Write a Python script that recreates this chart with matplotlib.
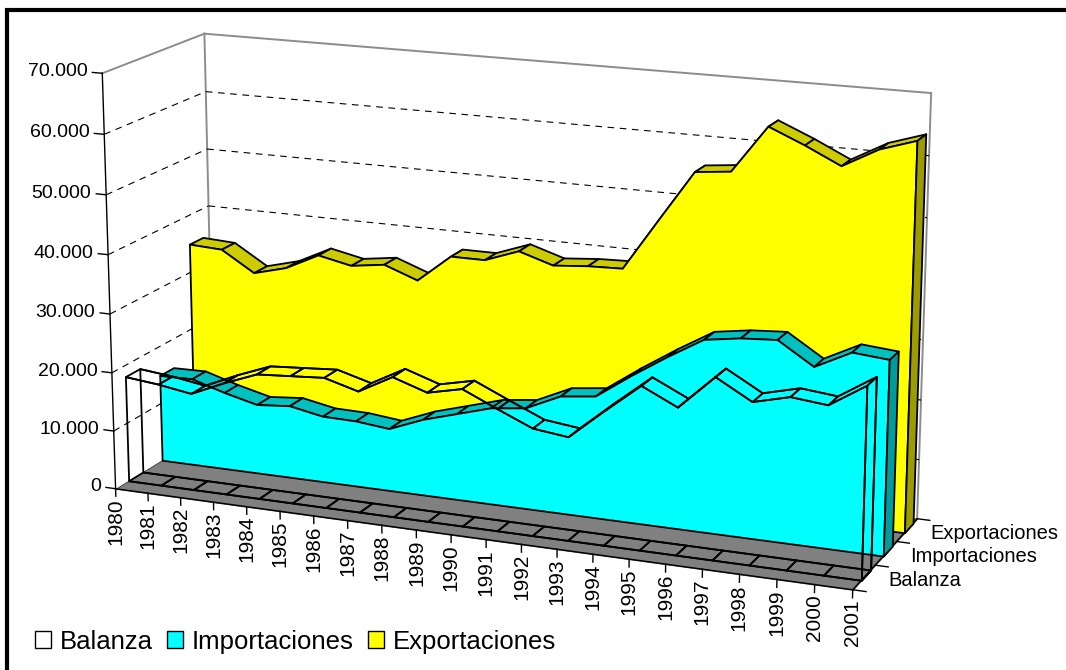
import matplotlib.pyplot as plt
from matplotlib.patches import Patch, Rectangle
from mpl_toolkits.mplot3d import proj3d
from mpl_toolkits.mplot3d.art3d import Poly3DCollection

years = [str(y) for y in range(1980, 2002)]
balanza = [18100, 17500, 16600, 19100, 21300, 21700, 22100, 20500, 23600, 21700, 23000,
           20400, 17900, 17200, 22200, 27000, 24200, 29800, 26500, 28000, 27400, 31200]
importaciones = [15000, 15100, 13400, 12000, 12500, 11400, 11300, 10700, 13000, 14700, 16400,
                 17100, 19800, 20500, 24600, 28400, 31900, 32800, 33200, 29500, 32500, 32000]
exportaciones = [35000, 34700, 31200, 32700, 35500, 34300, 35100, 33000, 37700, 37700, 39800,
                 38000, 38500, 38700, 47300, 55800, 56400, 64200, 61700, 58900, 62100, 64000]
series_names = ["Balanza", "Importaciones", "Exportaciones"]
value_ticks = [0, 10000, 20000, 30000, 40000, 50000, 60000, 70000]
tick_labels = ["0", "10.000", "20.000", "30.000", "40.000", "50.000", "60.000", "70.000"]

clear = (1, 1, 1, 0)
front_colors = [clear, "#00FFFF", "#FFFF00"]
top_colors = [clear, "#00C0C0", "#CCCC00"]
end_colors = [clear, "#009C9C", "#9C9C00"]

plt.rcParams["font.family"] = ["Liberation Sans", "DejaVu Sans"]

fig = plt.figure(figsize=(10.66, 6.70), dpi=100)
ax = fig.add_axes([-0.034, -0.260, 1.0, 1.591], projection="3d", computed_zorder=False)
ax.set_proj_type("persp", focal_length=0.6)
ax.view_init(elev=15.4, azim=-67.7)
ax.set_box_aspect((719, 202, 397), zoom=0.846)
n = len(years)
xmax = n - 1
ax.set_xlim(0, xmax)
ax.set_ylim(0, 3)
ax.set_zlim(0, 70000)
ax.set_axis_off()

order = [0]


def next_z():
    order[0] += 1
    return order[0]


def poly(verts, fc, ec="black", lw=1.3):
    pc = Poly3DCollection(verts, facecolors=[fc], edgecolors=[ec], linewidths=lw)
    pc.set_zorder(next_z())
    ax.add_collection3d(pc)


def line(xs, ys, zs, **kw):
    ax.plot(xs, ys, zs, zorder=next_z(), **kw)


def label(x, y, z, s, **kw):
    px, py, _ = proj3d.proj_transform(x, y, z, ax.get_proj())
    ax.text2D(px, py, s, transform=ax.transData, zorder=next_z(), **kw)


# floor
poly([[(0, 0, 0), (xmax, 0, 0), (xmax, 3, 0), (0, 3, 0)]], "#808080", ec="#505050", lw=0.8)

# walls
wall = dict(color="#8C8C8C", lw=1.4)
line([0, 0], [3, 3], [0, 70000], **wall)
line([0, xmax], [3, 3], [70000, 70000], **wall)
line([xmax, xmax], [3, 3], [0, 70000], **wall)
line([0, 0], [0, 3], [70000, 70000], **wall)
for v in value_ticks[1:-1]:
    line([0, 0], [0, 3], [v, v], color="black", lw=0.8, dashes=(6, 5))
    line([0, xmax], [3, 3], [v, v], color="black", lw=0.8, dashes=(6, 5))

# value axis
line([0, 0], [0, 0], [0, 70000], color="black", lw=1.0)
for v, lab in zip(value_ticks, tick_labels):
    line([0, -0.3], [0, 0], [v, v], color="black", lw=1.0)
    label(-0.45, 0, v, lab, ha="right", va="center", fontsize=14)

# year axis
line([0, xmax], [0, 0], [0, 0], color="black", lw=1.0)
for k, lab in enumerate(years):
    line([k, k], [0, 0], [0, -1300], color="black", lw=1.0)
    label(k, 0, -1600, lab, rotation=90, ha="center", va="top", fontsize=15)

# series axis
line([xmax, xmax], [0, 3], [0, 0], color="black", lw=1.0)
for d in range(4):
    line([xmax, xmax + 0.35], [d, d], [0, 0], color="black", lw=1.0)
for d, lab in enumerate(series_names):
    label(xmax + 0.65, d + 0.5, 0, lab, ha="left", va="center", fontsize=14.5)

front_gap, back_gap = 0.38, 0.2
all_values = [balanza, importaciones, exportaciones]
for i in [2, 1, 0]:
    vals = all_values[i]
    yf, yb = i + front_gap, i + 1 - back_gap
    fc, tc, ecol = front_colors[i], top_colors[i], end_colors[i]
    if i == 0:
        # transparent series: wireframe of the whole slab
        for k in range(n - 1):
            poly([[(k, yf, 0), (k + 1, yf, 0), (k + 1, yb, 0), (k, yb, 0)]], clear)
        poly([[(0, yb, 0)] + [(k, yb, v) for k, v in enumerate(vals)] + [(xmax, yb, 0)]], clear)
    for k in range(n - 1):
        poly([[(k, yf, vals[k]), (k + 1, yf, vals[k + 1]),
               (k + 1, yb, vals[k + 1]), (k, yb, vals[k])]], tc)
    poly([[(0, yf, 0)] + [(k, yf, v) for k, v in enumerate(vals)] + [(xmax, yf, 0)]], fc)
    poly([[(xmax, yf, 0), (xmax, yb, 0), (xmax, yb, vals[-1]), (xmax, yf, vals[-1])]], ecol)

handles = [Patch(facecolor=c, edgecolor="black", label=s)
           for c, s in zip(["white", "#00FFFF", "#FFFF00"], series_names)]
fig.legend(handles=handles, loc="center left", bbox_to_anchor=(0.011, 0.042), ncol=3,
           frameon=False, fontsize=18.5, handlelength=0.62, handleheight=0.62,
           handletextpad=0.35, columnspacing=0.55)

fig.patches.append(Rectangle((0.0066, -0.1), 1.2, 1.085, transform=fig.transFigure,
                             fill=False, edgecolor="black", lw=3))

fig.savefig("out.png", dpi=100)
